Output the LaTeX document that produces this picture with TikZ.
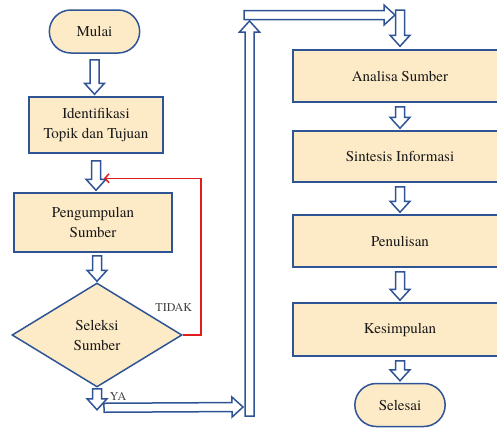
\documentclass[tikz,border=0pt]{standalone}
\usepackage{fontspec}
\IfFontExistsTF{texgyretermes-regular.otf}
  {\setmainfont{texgyretermes-regular.otf}}
  {\IfFontExistsTF{LiberationSerif-Regular.ttf}{\setmainfont{LiberationSerif-Regular.ttf}}{}}
\usetikzlibrary{shapes.geometric,shapes.misc,calc,arrows.meta,positioning}

\definecolor{boxfill}{RGB}{253,235,200}
\definecolor{boxline}{RGB}{47,84,150}
\definecolor{tidakred}{RGB}{224,28,28}

% hollow block arrow from #1 to its tip #2
\newcommand{\barr}[2]{%
  \path (#1) coordinate (ba) (#2) coordinate (bt) ($(bt)!11pt!(ba)$) coordinate (bh);
  \draw[barrow] ($(ba)!4.5pt!90:(bt)$) -- ($(bh)!4.5pt!90:(bt)$) -- ($(bh)!10pt!90:(bt)$)
    -- (bt) -- ($(bh)!10pt!-90:(bt)$) -- ($(bh)!4.5pt!-90:(bt)$) -- ($(ba)!4.5pt!-90:(bt)$) -- cycle;}

\begin{document}
\begin{tikzpicture}[x=1pt,y=-1pt,
    font=\rmfamily\fontsize{15}{20}\selectfont,
    proses/.style={draw=boxline, line width=1.5pt, fill=boxfill, align=center, text=black!90},
    terminal/.style={rounded rectangle, draw=boxline, line width=1.5pt, fill=boxfill,
        minimum width=97pt, minimum height=43pt, text=black!90},
    keputusan/.style={diamond, aspect=1.63, draw=boxline, line width=1.5pt, fill=boxfill,
        minimum width=170pt, minimum height=104pt, inner sep=0pt, align=center, text=black!90},
    barrow/.style={draw=boxline, line width=1.5pt, fill=white},
    tidak/.style={draw=tidakred, line width=1.5pt, -{Straight Barb[length=4pt,width=9pt]}},
    lbl/.style={font=\rmfamily\fontsize{12}{14}\selectfont, text=black!75}]
    \useasboundingbox (0,0) rectangle (497,429);

    % left column
    \node[terminal] (mulai) at (94.5,31.5) {Mulai};
    \node[proses, minimum width=134pt, minimum height=56pt] (identifikasi) at (96,125) {Identifikasi\\Topik dan Tujuan};
    \node[proses, minimum width=158pt, minimum height=59pt] (pengumpulan) at (93,222.5) {Pengumpulan\\Sumber};
    \node[keputusan] (seleksi) at (97,335) {Seleksi\\Sumber};

    % right column
    \node[proses, minimum width=214pt, minimum height=52pt] (analisa) at (400,76) {Analisa Sumber};
    \node[proses, minimum width=214pt, minimum height=51pt] (sintesis) at (400,156.5) {Sintesis Informasi};
    \node[proses, minimum width=214pt, minimum height=52pt] (penulisan) at (400,241) {Penulisan};
    \node[proses, minimum width=214pt, minimum height=53pt] (kesimpulan) at (400,329.5) {Kesimpulan};
    \node[terminal] (selesai) at (400,405) {Selesai};

    \barr{$(mulai.south)+(0,6)$}{$(mulai.south |- identifikasi.north)+(0,-2)$}
    \barr{$(identifikasi.south)+(0,7)$}{$(identifikasi.south |- pengumpulan.north)+(0,-2)$}
    \barr{$(seleksi.north |- pengumpulan.south)+(0,3)$}{$(seleksi.north)+(0,-1)$}
    \barr{$(seleksi.south)+(0,1)$}{$(seleksi.south)+(0,22)$}

    % jalur YA ke kolom kanan
    \coordinate (ya1) at ($(seleksi.south)+(7,20)$);
    \coordinate (ya2) at (243,407);
    \coordinate (naik1) at (249.5,416);
    \coordinate (naik2) at (249.5,21);
    \coordinate (atas1) at (244,15);
    \coordinate (atas2) at (395,15);
    \coordinate (turun) at (400,10);
    \barr{ya1}{ya2}
    \barr{naik1}{naik2}
    \barr{atas1}{atas2}
    \barr{turun}{$(analisa.north)+(0,-3)$}

    \foreach \a/\b in {analisa/sintesis, sintesis/penulisan, penulisan/kesimpulan, kesimpulan/selesai}
        \barr{$(\a.south)+(0,4)$}{$(\b.north)+(0,-2)$};

    % jalur TIDAK
    \coordinate (balik) at ($(pengumpulan.north)+(11,-14)$);
    \draw[tidak] (seleksi.east) -- ++(18,0) |- (balik);
    \node[lbl] at ($(seleksi.east)+(-9,-28)$) {TIDAK};
    \node[lbl] at ($(seleksi.south)+(21,9)$) {YA};
\end{tikzpicture}
\end{document}
